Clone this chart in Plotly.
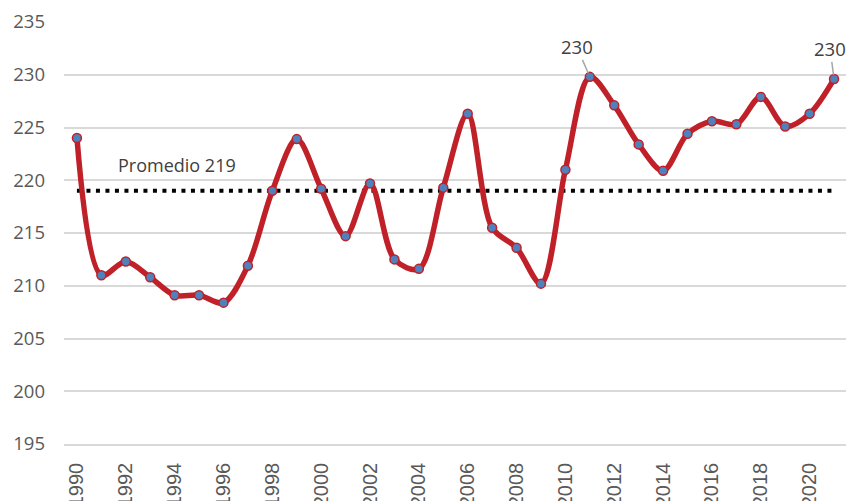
import plotly.graph_objects as go

years = list(range(1990, 2022))
values = [224.0, 211.0, 212.3, 210.8, 209.1, 209.1, 208.4, 211.9, 219.0, 223.9,
          219.2, 214.7, 219.7, 212.5, 211.6, 219.3, 226.3, 215.5, 213.6, 210.2,
          221.0, 229.8, 227.1, 223.4, 220.9, 224.4, 225.6, 225.3, 227.9, 225.1,
          226.3, 229.6]
average = 219
average_label = "Promedio 219"
x_ticks = list(range(1990, 2022, 2))
y_ticks = list(range(195, 240, 5))

RED = "rgb(192,32,40)"
BLUE = "rgb(79,129,189)"
GRID = "#d9d9d9"
TXT = "#595959"

fig = go.Figure()

fig.add_trace(go.Scatter(
    x=[years[0], years[-1]], y=[average, average], mode="lines",
    line=dict(color="black", width=4, dash="4px,5.5px"),
    hoverinfo="skip", showlegend=False))

fig.add_trace(go.Scatter(
    x=years, y=values, mode="lines+markers",
    line=dict(color=RED, width=5.5, shape="spline", smoothing=0.9),
    marker=dict(size=9, color=BLUE, line=dict(color=RED, width=1.5)),
    showlegend=False))

fig.add_annotation(x=1994.1, y=221.4, text=average_label, showarrow=False,
                   font=dict(family="Open Sans", size=18, color="#404040"))

for yr in (2011, 2021):
    v = values[years.index(yr)]
    ax = -13 if yr == 2011 else -4
    fig.add_annotation(x=yr, y=v, text="230", showarrow=True, arrowhead=0,
                       arrowwidth=1.5, arrowcolor="#a6a6a6", ax=ax, ay=-30,
                       standoff=4, borderpad=0,
                       font=dict(family="Open Sans", size=18.5, color="#404040"))

fig.update_layout(
    width=846, height=493,
    margin=dict(l=56, r=7, t=14, b=57),
    paper_bgcolor="white", plot_bgcolor="white",
    xaxis=dict(range=[1989.47, 2021.53], tickvals=x_ticks, tickangle=-90,
               showgrid=False, zeroline=False, showline=True, linecolor=GRID,
               linewidth=1.5, automargin=False, ticks="", ticklabelstandoff=9,
               tickfont=dict(family="Liberation Sans", size=20, color=TXT)),
    yaxis=dict(range=[195, 235], tickvals=y_ticks, showgrid=True,
               gridcolor=GRID, gridwidth=1.5, zeroline=False, automargin=False,
               ticks="", ticklabelstandoff=18,
               tickfont=dict(family="Open Sans", size=18.5, color=TXT)),
)

fig.write_html("out.html")
